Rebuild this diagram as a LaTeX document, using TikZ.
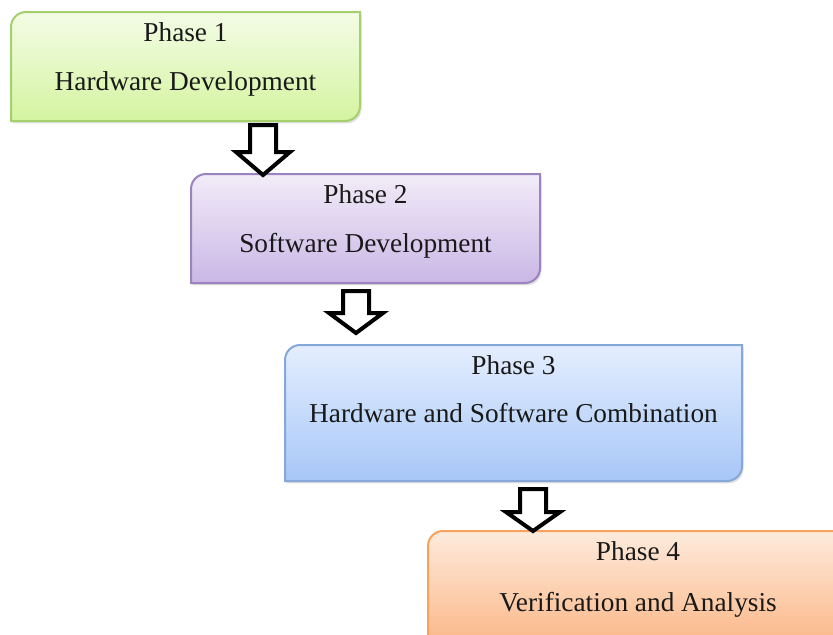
\documentclass[tikz,border=0pt]{standalone}
\usepackage{fontspec}
\setmainfont{Liberation Serif}
\usetikzlibrary{calc,shadows}
\definecolor{gtop}{HTML}{F4FCE6}\definecolor{gbot}{HTML}{D4F4A0}\definecolor{gline}{HTML}{A5D06D}
\definecolor{ptop}{HTML}{F2ECF8}\definecolor{pbot}{HTML}{CAB7E6}\definecolor{pline}{HTML}{9D82C0}
\definecolor{btop}{HTML}{E4EEFE}\definecolor{bbot}{HTML}{A7C7F8}\definecolor{bline}{HTML}{86A8D8}
\definecolor{otop}{HTML}{FDEBDC}\definecolor{obot}{HTML}{FBB07C}\definecolor{oline}{HTML}{F7A25D}
\tikzset{
  holder/.style={rectangle,draw=none,inner sep=0pt,outer sep=0pt},
  boxline/.style={line width=1pt,drop shadow={opacity=0.25,shadow xshift=0.8pt,shadow yshift=-1.2pt}},
  lbl/.style={anchor=base,inner sep=0pt,font=\fontsize{13.65}{16}\selectfont,text=black!90},
  barrow/.style={draw=black,line width=2pt,fill=white,line join=miter}
}
\newcommand\phaseshape[2]{%
  \draw[boxline,#2] (#1.south west) -- ([yshift=-7.5pt]#1.north west)
    arc[start angle=180,end angle=90,radius=7.5pt] -- (#1.north east)
    -- ([yshift=7.5pt]#1.south east) arc[start angle=0,end angle=-90,radius=7.5pt] -- cycle;}
\newcommand\blockarr[4]{% tip, total length, head length
  \draw[barrow] (#1) ++(-13,#2) -- ++(26,0) -- ++(0,-#2+#3) -- ++(14,0) -- (#1) -- ++(-27,#3) -- ++(14,0) -- cycle;}
\begin{document}
\begin{tikzpicture}[x=0.5pt,y=0.5pt]
\useasboundingbox (0,0) rectangle (833,634);
\clip (0,0) rectangle (833,634);
\node[holder,minimum width=174.5pt,minimum height=54.5pt] (p1) at (185.5,567.5) {};
\node[holder,minimum width=174.5pt,minimum height=54.5pt] (p2) at (365.5,405.5) {};
\node[holder,minimum width=228.5pt,minimum height=68pt] (p3) at (513.5,221) {};
\node[holder,minimum width=210pt,minimum height=64.5pt] (p4) at (638,38.5) {};
\phaseshape{p1}{draw=gline,top color=gtop,bottom color=gbot}
\phaseshape{p2}{draw=pline,top color=ptop,bottom color=pbot}
\phaseshape{p3}{draw=bline,top color=btop,bottom color=bbot}
\phaseshape{p4}{draw=oline,top color=otop,bottom color=obot}
\node[lbl] (p1a) at ([yshift=-14.75pt]p1.north) {Phase 1};
\node[lbl] (p1b) at ([yshift=-39pt]p1.north) {Hardware Development};
\node[lbl] (p2a) at ([yshift=-14.75pt]p2.north) {Phase 2};
\node[lbl] (p2b) at ([yshift=-39pt]p2.north) {Software Development};
\node[lbl] (p3a) at ([yshift=-14.75pt]p3.north) {Phase 3};
\node[lbl] (p3b) at ([yshift=-38.5pt]p3.north) {Hardware and Software Combination};
\node[lbl] (p4a) at ([yshift=-14.5pt]p4.north) {Phase 4};
\node[lbl] (p4b) at ([yshift=-40pt]p4.north) {Verification and Analysis};
\coordinate (t1) at (263,459);
\coordinate (t2) at (356,301);
\coordinate (t3) at (533,103);
\blockarr{t1}{50}{23}{}
\blockarr{t2}{42}{20}{}
\blockarr{t3}{42}{19}{}
\end{tikzpicture}
\end{document}
